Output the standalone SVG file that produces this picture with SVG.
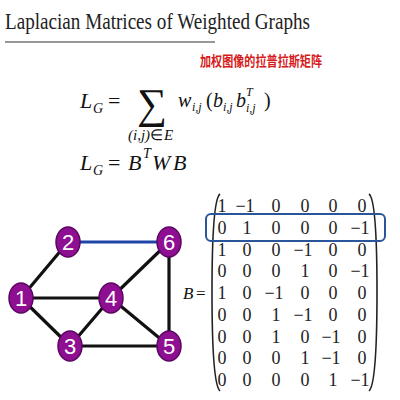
<svg xmlns="http://www.w3.org/2000/svg" width="400" height="400" viewBox="0 0 400 400">
<style>
.t{font-family:"Liberation Serif",serif;fill:#222}
.m{font-family:"Liberation Serif",serif;font-style:italic;fill:#111}
.mu{font-family:"Liberation Serif",serif;fill:#111}
.up{font-style:normal}
.cell{font-family:"Liberation Serif",serif;font-size:18px;fill:#222;text-anchor:middle}
.node ellipse{fill:#8e0f91;stroke:#5a0660;stroke-width:1.5}
.node text{font-family:"Liberation Sans",sans-serif;font-size:22px;fill:#fff;text-anchor:middle}
.e{stroke:#111;stroke-width:3.2}
</style>
<rect width="400" height="400" fill="#fff"/>
<text class="t" x="5" y="29" font-size="24" textLength="305" lengthAdjust="spacingAndGlyphs">Laplacian Matrices of Weighted Graphs</text>
<line x1="5" y1="42" x2="215" y2="42" stroke="#333" stroke-width="1.2"/>
<text x="200" y="66" font-family="'Noto Sans CJK SC',sans-serif" font-weight="bold" font-size="14" fill="#d61a1a" textLength="122" lengthAdjust="spacingAndGlyphs">加权图像的拉普拉斯矩阵</text>
<!-- formula 1 -->
<text class="m" x="80" y="108" font-size="22">L</text>
<text class="m" x="93" y="113" font-size="14">G</text>
<text class="mu" x="108" y="108" font-size="22">=</text>
<text class="mu" x="137" y="118" font-size="42">∑</text>
<text class="m" x="128" y="140" font-size="15">(i,j)<tspan class="up">∈</tspan><tspan dx="1">E</tspan></text>
<text class="m" x="178" y="107" font-size="20">w</text>
<text class="m" x="192" y="111" font-size="12">i,j</text>
<text class="mu" x="206" y="107" font-size="20">(</text>
<text class="m" x="213" y="107" font-size="20">b</text>
<text class="m" x="223" y="111" font-size="12">i,j</text>
<text class="m" x="236" y="107" font-size="20">b</text>
<text class="m" x="246" y="96" font-size="12">T</text>
<text class="m" x="246" y="112" font-size="12">i,j</text>
<text class="mu" x="264" y="107" font-size="20">)</text>
<!-- formula 2 -->
<text class="m" x="80" y="170" font-size="22">L</text>
<text class="m" x="93" y="175" font-size="14">G</text>
<text class="mu" x="108" y="170" font-size="22">=</text>
<text class="m" x="128" y="170" font-size="22">B</text>
<text class="m" x="143" y="158" font-size="14">T</text>
<text class="m" x="152" y="170" font-size="22">W</text>
<text class="m" x="173" y="170" font-size="22">B</text>
<!-- matrix -->
<text class="m" x="183" y="299" font-size="17">B</text>
<text class="mu" x="196" y="299" font-size="17">=</text>
<path d="M220,194 Q212,200 212,292 Q212,384 220,391" fill="none" stroke="#222" stroke-width="1.6"/>
<path d="M369,194 Q377,200 377,292 Q377,384 369,391" fill="none" stroke="#222" stroke-width="1.6"/>
<rect x="206" y="214" width="179" height="27" rx="5" fill="none" stroke="#2b559b" stroke-width="2"/>
<g id="matrix">
<text class="cell" y="212"><tspan x="222">1</tspan><tspan x="245">−1</tspan><tspan x="276">0</tspan><tspan x="305">0</tspan><tspan x="333">0</tspan><tspan x="362">0</tspan></text>
<text class="cell" y="234"><tspan x="222">0</tspan><tspan x="247">1</tspan><tspan x="276">0</tspan><tspan x="305">0</tspan><tspan x="333">0</tspan><tspan x="360">−1</tspan></text>
<text class="cell" y="255.5"><tspan x="222">1</tspan><tspan x="247">0</tspan><tspan x="276">0</tspan><tspan x="303">−1</tspan><tspan x="333">0</tspan><tspan x="362">0</tspan></text>
<text class="cell" y="277"><tspan x="222">0</tspan><tspan x="247">0</tspan><tspan x="276">0</tspan><tspan x="305">1</tspan><tspan x="333">0</tspan><tspan x="360">−1</tspan></text>
<text class="cell" y="299"><tspan x="222">1</tspan><tspan x="247">0</tspan><tspan x="274">−1</tspan><tspan x="305">0</tspan><tspan x="333">0</tspan><tspan x="362">0</tspan></text>
<text class="cell" y="321"><tspan x="222">0</tspan><tspan x="247">0</tspan><tspan x="276">1</tspan><tspan x="303">−1</tspan><tspan x="333">0</tspan><tspan x="362">0</tspan></text>
<text class="cell" y="342.5"><tspan x="222">0</tspan><tspan x="247">0</tspan><tspan x="276">1</tspan><tspan x="305">0</tspan><tspan x="331">−1</tspan><tspan x="362">0</tspan></text>
<text class="cell" y="364"><tspan x="222">0</tspan><tspan x="247">0</tspan><tspan x="276">0</tspan><tspan x="305">1</tspan><tspan x="331">−1</tspan><tspan x="362">0</tspan></text>
<text class="cell" y="386"><tspan x="222">0</tspan><tspan x="247">0</tspan><tspan x="276">0</tspan><tspan x="305">0</tspan><tspan x="333">1</tspan><tspan x="360">−1</tspan></text>
</g>
<!-- graph -->
<g id="edges">
<line class="e" x1="21" y1="298" x2="68" y2="242"/>
<line class="e" x1="21" y1="298" x2="111" y2="298"/>
<line class="e" x1="21" y1="298" x2="70" y2="346"/>
<line class="e" x1="70" y1="346" x2="111" y2="298"/>
<line class="e" x1="111" y1="298" x2="169" y2="242"/>
<line class="e" x1="111" y1="298" x2="169" y2="346"/>
<line class="e" x1="70" y1="346" x2="169" y2="346"/>
<line class="e" x1="169" y1="242" x2="169" y2="346"/>
<line x1="68" y1="242" x2="169" y2="242" stroke="#1f44a8" stroke-width="3.2"/>
</g>
<g id="n1" class="node"><ellipse cx="21" cy="298" rx="12" ry="15"/><text x="21" y="306">1</text></g>
<g id="n2" class="node"><ellipse cx="68" cy="242" rx="12" ry="15"/><text x="68" y="250">2</text></g>
<g id="n3" class="node"><ellipse cx="70" cy="346" rx="12" ry="15"/><text x="70" y="354">3</text></g>
<g id="n4" class="node"><ellipse cx="111" cy="298" rx="12" ry="15"/><text x="111" y="306">4</text></g>
<g id="n5" class="node"><ellipse cx="169" cy="346" rx="12" ry="15"/><text x="169" y="354">5</text></g>
<g id="n6" class="node"><ellipse cx="169" cy="242" rx="12" ry="15"/><text x="169" y="250">6</text></g>
</svg>
